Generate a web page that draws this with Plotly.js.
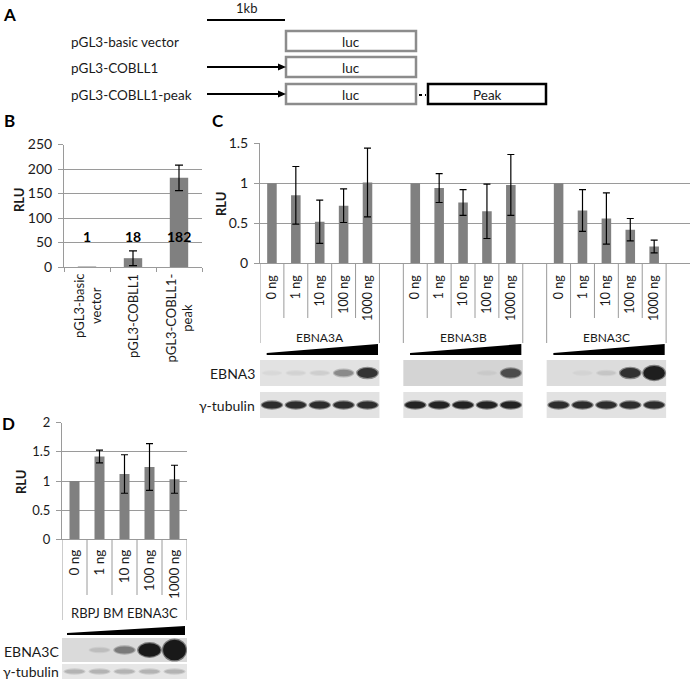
<!DOCTYPE html>
<html><head><meta charset="utf-8">
<script src="https://cdn.plot.ly/plotly-3.0.1.min.js"></script>
<style>html,body{margin:0;padding:0;background:#fff}</style>
</head><body><div id="chart" style="width:692px;height:681px"></div>
<script>
// ---------------- data ----------------
const constructNames = ["pGL3-basic vector", "pGL3-COBLL1", "pGL3-COBLL1-peak"];
const bTickText = ["pGL3-basic<br>vector", "pGL3-COBLL1", "pGL3-COBLL1-<br>peak"];
const bValues = [1, 18, 182];
const bErrors = [0, 15, 26];
const bLabels = ["1", "18", "182"];

const doseLabels = ["0 ng", "1 ng", "10 ng", "100 ng", "1000 ng"];
const cGroups = ["EBNA3A", "EBNA3B", "EBNA3C"];
const cEBNA3A = [1, 0.85, 0.52, 0.72, 1.01];
const cEBNA3AErr = [0, 0.36, 0.27, 0.21, 0.43];
const cEBNA3B = [1, 0.94, 0.76, 0.65, 0.98];
const cEBNA3BErr = [0, 0.18, 0.16, 0.34, 0.38];
const cEBNA3C = [1, 0.66, 0.56, 0.42, 0.21];
const cEBNA3CErr = [0, 0.26, 0.32, 0.14, 0.08];

const dGroup = "RBPJ BM EBNA3C";
const dValues = [1, 1.42, 1.12, 1.24, 1.03];
const dErrors = [0, 0.11, 0.33, 0.40, 0.24];

// western blot band signal per lane
const blotC_EBNA3 = [[0.05, 0.08, 0.1, 0.45, 0.9], [0.02, 0.02, 0.02, 0.06, 0.75], [0.02, 0.05, 0.12, 0.9, 1.4]];
const blotC_tubulin = [[0.9, 0.9, 0.9, 0.9, 0.9], [0.95, 0.95, 0.95, 0.95, 0.95], [0.9, 0.9, 0.9, 0.9, 0.9]];
const blotD_EBNA3C = [0.02, 0.15, 0.5, 1.3, 2.2];
const blotD_tubulin = [0.3, 0.3, 0.3, 0.3, 0.3];

// ---------------- helpers ----------------
const W = 692, H = 681;
const X = p => p / W, Y = p => 1 - p / H;
const FONT = "Lato, 'Open Sans', sans-serif";
const TXT = "#1a1a1a";
const GRID = "#9a9a9a";
const BAR = "#808080";
const errArr = a => a.map(v => v > 0 ? v : NaN);

const shapes = [];
const annotations = [];
function ann(o) { annotations.push(Object.assign({showarrow: false, xanchor: "center", yanchor: "middle", font: {family: FONT, size: 13, color: TXT}}, o)); }

// ---------------- panel A (diagram) ----------------
ann({text: "<b>A</b>", xref: "paper", yref: "paper", x: X(9), y: Y(15), font: {family: FONT, size: 17, color: "#000"}});
ann({text: "1kb", xref: "paper", yref: "paper", x: X(246), y: Y(8)});
shapes.push({type: "line", xref: "paper", yref: "paper", x0: X(207), x1: X(285), y0: Y(20), y1: Y(20), line: {color: "#000", width: 2}});
const rowY = [41, 67, 94];
constructNames.forEach((name, i) => {
  const yc = rowY[i];
  ann({text: name, xref: "paper", yref: "paper", x: X(69), y: Y(yc + 1), xanchor: "left", font: {family: FONT, size: 13.5, color: TXT}});
  shapes.push({type: "rect", xref: "paper", yref: "paper", x0: X(286), x1: X(416), y0: Y(yc - 10), y1: Y(yc + 10), line: {color: "#8c8c8c", width: 2.5}, fillcolor: "#fff"});
  ann({text: "luc", xref: "paper", yref: "paper", x: X(351), y: Y(yc + 1), font: {family: FONT, size: 13.5, color: TXT}});
  if (i > 0) {
    shapes.push({type: "line", xref: "paper", yref: "paper", x0: X(207), x1: X(280), y0: Y(yc), y1: Y(yc), line: {color: "#000", width: 1.8}});
    shapes.push({type: "path", xref: "paper", yref: "paper", path: `M ${X(278)},${Y(yc - 3.5)} L ${X(286)},${Y(yc)} L ${X(278)},${Y(yc + 3.5)} Z`, fillcolor: "#000", line: {width: 0}});
  }
  if (i === 2) {
    shapes.push({type: "line", xref: "paper", yref: "paper", x0: X(419), x1: X(426), y0: Y(yc + 1), y1: Y(yc + 1), line: {color: "#000", width: 2, dash: "dot"}});
    shapes.push({type: "rect", xref: "paper", yref: "paper", x0: X(428), x1: X(546), y0: Y(yc - 10), y1: Y(yc + 10), line: {color: "#000", width: 2.5}, fillcolor: "#fff"});
    ann({text: "Peak", xref: "paper", yref: "paper", x: X(487), y: Y(yc + 1), font: {family: FONT, size: 13.5, color: TXT}});
  }
});

// ---------------- panel labels & RLU ----------------
ann({text: "<b>B</b>", xref: "paper", yref: "paper", x: X(9), y: Y(120), font: {family: FONT, size: 17, color: "#000"}});
ann({text: "<b>C</b>", xref: "paper", yref: "paper", x: X(218), y: Y(120), font: {family: FONT, size: 17, color: "#000"}});
ann({text: "<b>D</b>", xref: "paper", yref: "paper", x: X(8), y: Y(424), font: {family: FONT, size: 17, color: "#000"}});
ann({text: "<b>RLU</b>", xref: "paper", yref: "paper", x: X(19), y: Y(200), textangle: -90});
ann({text: "<b>RLU</b>", xref: "paper", yref: "paper", x: X(221), y: Y(204), textangle: -90});
ann({text: "<b>RLU</b>", xref: "paper", yref: "paper", x: X(21), y: Y(482), textangle: -90});

// ---------------- panel B ----------------
const traces = [];
traces.push({type: "bar", x: constructNames, y: bValues, xaxis: "x", yaxis: "y", width: 0.4,
  marker: {color: BAR}, error_y: {type: "data", array: errArr(bErrors), color: "#000", thickness: 1.2, width: 4}});
bLabels.forEach((t, i) => ann({text: "<b>" + t + "</b>", xref: "x", yref: "y", x: constructNames[i], y: 63, font: {family: FONT, size: 14, color: "#000"}}));
bTickText.forEach((t, i) => ann({text: t, xref: "x", yref: "paper", x: constructNames[i], y: Y(272), yanchor: "top", textangle: -90, align: "center", font: {family: FONT, size: 13, color: TXT}}));

// ---------------- panel C ----------------
const cVals = [cEBNA3A, cEBNA3B, cEBNA3C];
const cErrs = [cEBNA3AErr, cEBNA3BErr, cEBNA3CErr];
const n = doseLabels.length, step = n + 1;
const cX = [], cY = [], cE = [], cTick = [];
cVals.forEach((vals, g) => vals.forEach((v, i) => { cX.push(g * step + i); cY.push(v); cE.push(cErrs[g][i]); cTick.push(doseLabels[i]); }));
traces.push({type: "bar", x: cX, y: cY, xaxis: "x2", yaxis: "y2", width: 0.4,
  marker: {color: BAR}, error_y: {type: "data", array: errArr(cE), color: "#000", thickness: 1.2, width: 3.5}});
const cMax = cGroups.length * step - 1; // number of category slots
const cAxisPx = 263.3;
for (let k = 0; k <= cMax; k++) {
  const b = k - 0.5;
  const isGroupEdge = (k % step === 0) || (k % step === n);
  shapes.push({type: "line", xref: "x2", yref: "paper", x0: b, x1: b, y0: Y(cAxisPx), y1: Y(isGroupEdge ? 343 : 318), line: {color: GRID, width: 1}});
}
cGroups.forEach((gname, g) => {
  ann({text: gname, xref: "x2", yref: "paper", x: g * step + (n - 1) / 2, y: Y(337), font: {family: FONT, size: 12, color: TXT}});
});

// ---------------- panel D ----------------
const dX = doseLabels.map((_, i) => i);
traces.push({type: "bar", x: dX, y: dValues, xaxis: "x3", yaxis: "y3", width: 0.4,
  marker: {color: BAR}, error_y: {type: "data", array: errArr(dErrors), color: "#000", thickness: 1.2, width: 3.5}});
const dAxisPx = 539.3;
for (let k = 0; k <= n; k++) {
  const edge = (k === 0 || k === n);
  shapes.push({type: "line", xref: "x3", yref: "paper", x0: k - 0.5, x1: k - 0.5, y0: Y(dAxisPx), y1: Y(edge ? 620 : 595), line: {color: GRID, width: 1}});
}
ann({text: dGroup, xref: "x3", yref: "paper", x: (n - 1) / 2, y: Y(613), font: {family: FONT, size: 13, color: TXT}});

// ---------------- blots ----------------
function gray(v) { v = Math.max(0, Math.min(255, Math.round(v))); return `rgb(${v},${v},${v})`; }
function blotStrip(xref, x0, x1, top, bottom, bg, signals, bandColorMin, maxH) {
  shapes.push({type: "rect", xref: xref, yref: "paper", x0: x0, x1: x1, y0: Y(bottom), y1: Y(top), fillcolor: gray(bg), line: {width: 0}});
  const yc = (top + bottom) / 2;
  signals.forEach((s, i) => {
    if (s < 0.04) return;
    const d = Math.min(1, s);
    const h = Math.min(maxH, 3 + 8 * s);
    const w = 0.38 + 0.05 * Math.min(s, 1.5);
    const col = bg - d * (bg - bandColorMin);
    // soft halo
    shapes.push({type: "circle", xref: xref, yref: "paper", x0: i + x0 + 0.5 - w - 0.05, x1: i + x0 + 0.5 + w + 0.05,
      y0: Y(yc + h / 2 + 1.2), y1: Y(yc - h / 2 - 1.2), fillcolor: gray((bg + col) / 2), line: {width: 0}});
    shapes.push({type: "circle", xref: xref, yref: "paper", x0: i + x0 + 0.5 - w, x1: i + x0 + 0.5 + w,
      y0: Y(yc + h / 2), y1: Y(yc - h / 2), fillcolor: gray(col), line: {width: 0}});
  });
}
function wedge(xref, x0, x1, tipY, topY, bottomY) {
  shapes.push({type: "path", xref: xref, yref: "paper",
    path: `M ${x0},${Y(tipY)} L ${x1},${Y(topY)} L ${x1},${Y(bottomY)} L ${x0},${Y(bottomY)} Z`,
    fillcolor: "#000", line: {width: 0}});
}
const cBg = [226, 212, 220];
cGroups.forEach((g, gi) => {
  const s0 = gi * step - 0.5, s1 = gi * step + n - 0.5;
  wedge("x2", s0 + 0.28, s1 - 0.06, 353, 344, 355);
  blotStrip("x2", s0, s1, 360, 386, cBg[gi], blotC_EBNA3[gi], 30, 16);
  blotStrip("x2", s0, s1, 392, 418, 226, blotC_tubulin[gi], 25, 7);
});
ann({text: "EBNA3", xref: "paper", yref: "paper", x: X(257), y: Y(373), xanchor: "right", font: {family: FONT, size: 14, color: TXT}});
ann({text: "γ-tubulin", xref: "paper", yref: "paper", x: X(257), y: Y(405), xanchor: "right", font: {family: FONT, size: 14, color: TXT}});

wedge("x3", -0.3, n - 0.58, 633, 626, 635);
blotStrip("x3", -0.5, n - 0.5, 638, 662, 218, blotD_EBNA3C, 25, 22);
blotStrip("x3", -0.5, n - 0.5, 664, 679, 230, blotD_tubulin, 60, 4);
ann({text: "EBNA3C", xref: "paper", yref: "paper", x: X(61), y: Y(651), xanchor: "right", font: {family: FONT, size: 14, color: TXT}});
ann({text: "γ-tubulin", xref: "paper", yref: "paper", x: X(61), y: Y(671), xanchor: "right", font: {family: FONT, size: 14, color: TXT}});

// ---------------- axes ----------------
const yCommon = {showgrid: true, gridcolor: GRID, gridwidth: 1, showline: true, linecolor: GRID, linewidth: 1,
  ticks: "outside", ticklen: 5, tickcolor: GRID, zeroline: false, ticklabelstandoff: 3,
  tickfont: {family: FONT, size: 14, color: TXT}, fixedrange: true};
const xCommon = {showgrid: false, showline: true, linecolor: GRID, linewidth: 1, zeroline: false, fixedrange: true};

const layout = {
  width: W, height: H, margin: {l: 0, r: 0, t: 0, b: 0}, paper_bgcolor: "#fff", plot_bgcolor: "rgba(0,0,0,0)",
  showlegend: false, font: {family: FONT, color: TXT},
  xaxis: Object.assign({}, xCommon, {domain: [X(64), X(202)], anchor: "y", type: "category", tickson: "boundaries",
    ticks: "outside", ticklen: 4, tickcolor: GRID, showticklabels: false, range: [-0.5, 2.5]}),
  yaxis: Object.assign({}, yCommon, {domain: [Y(267), Y(144.5)], anchor: "x", range: [0, 250], dtick: 50, tick0: 0}),
  xaxis2: Object.assign({}, xCommon, {domain: [X(260), X(690)], anchor: "y2", range: [-0.5, cMax + 0.5],
    tickmode: "array", tickvals: cX, ticktext: cTick, tickangle: -90, ticks: "", ticklabelstandoff: 6,
    tickfont: {family: FONT, size: 12.5, color: TXT}}),
  yaxis2: Object.assign({}, yCommon, {domain: [Y(263.3), Y(143.3)], anchor: "x2", range: [0, 1.5], dtick: 0.5, tick0: 0}),
  xaxis3: Object.assign({}, xCommon, {domain: [X(62), X(187)], anchor: "y3", range: [-0.5, n - 0.5],
    tickmode: "array", tickvals: dX, ticktext: doseLabels, tickangle: -90, ticks: "", ticklabelstandoff: 4,
    tickfont: {family: FONT, size: 13.5, color: TXT}}),
  yaxis3: Object.assign({}, yCommon, {domain: [Y(539.3), Y(422.7)], anchor: "x3", range: [0, 2], dtick: 0.5, tick0: 0,
    tickfont: {family: FONT, size: 13, color: TXT}}),
  shapes: shapes,
  annotations: annotations
};

Plotly.newPlot("chart", traces, layout, {staticPlot: true, displayModeBar: false});
</script>
</body></html>
